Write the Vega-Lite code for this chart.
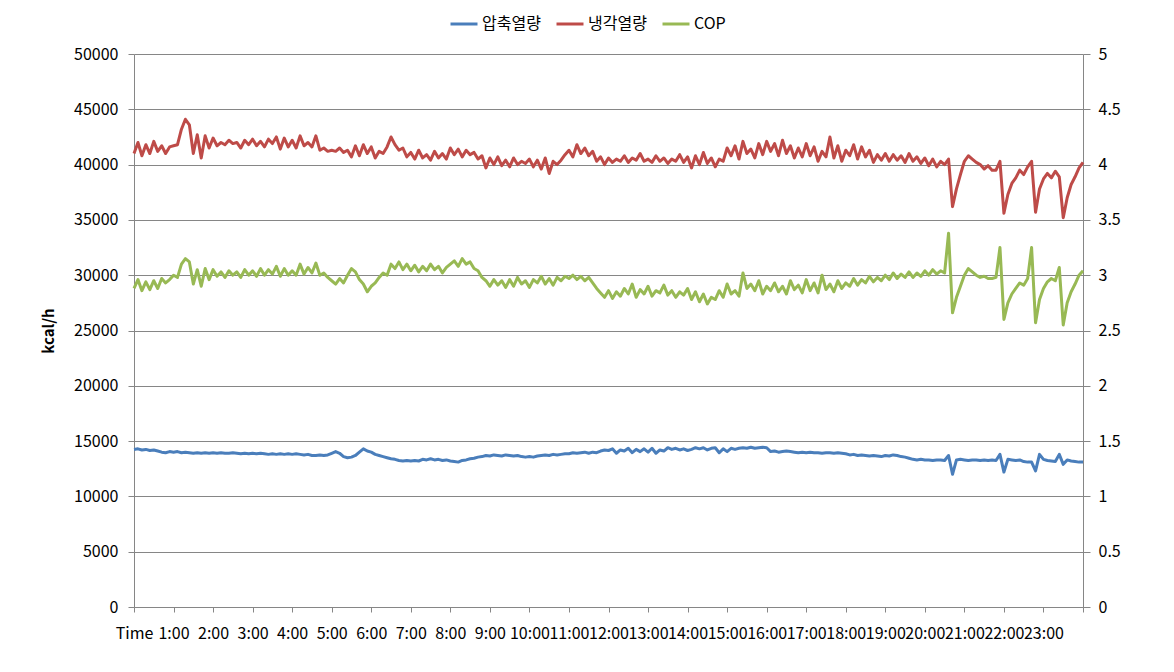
{
"$schema": "https://vega.github.io/schema/vega-lite/v6.json",
"width": 949, "height": 553,
"autosize": "none",
"padding": {"left": 134, "top": 54, "right": 91, "bottom": 65},
"background": "white",
"config": {
  "font": "Noto Sans CJK KR",
  "view": {"stroke": null},
  "axis": {"labelColor": "#000000", "labelFontSize": 16, "domainColor": "#868686", "tickColor": "#868686", "gridColor": "#868686", "gridOpacity": 1, "domainWidth": 1, "tickWidth": 1, "gridWidth": 1}
},
"data": {"values": [
{"t":0,"압축열량":14250,"냉각열량":41000,"COP":2.88},
{"t":0.1,"압축열량":14300,"냉각열량":42000,"COP":2.96},
{"t":0.2,"압축열량":14200,"냉각열량":40800,"COP":2.86},
{"t":0.3,"압축열량":14250,"냉각열량":41800,"COP":2.94},
{"t":0.4,"압축열량":14150,"냉각열량":41000,"COP":2.87},
{"t":0.5,"압축열량":14200,"냉각열량":42100,"COP":2.95},
{"t":0.6,"압축열량":14100,"냉각열량":41200,"COP":2.88},
{"t":0.7,"압축열량":14000,"냉각열량":41700,"COP":2.97},
{"t":0.8,"압축열량":13950,"냉각열량":41000,"COP":2.93},
{"t":0.9,"압축열량":14050,"냉각열량":41600,"COP":2.96},
{"t":1,"압축열량":14000,"냉각열량":41700,"COP":3.00},
{"t":1.1,"압축열량":14050,"냉각열량":41800,"COP":2.98},
{"t":1.2,"압축열량":13950,"냉각열량":43200,"COP":3.10},
{"t":1.3,"압축열량":14000,"냉각열량":44100,"COP":3.15},
{"t":1.4,"압축열량":13950,"냉각열량":43600,"COP":3.12},
{"t":1.5,"압축열량":13900,"냉각열량":41000,"COP":2.92},
{"t":1.6,"압축열량":13950,"냉각열량":42700,"COP":3.05},
{"t":1.7,"압축열량":13900,"냉각열량":40600,"COP":2.90},
{"t":1.8,"압축열량":13950,"냉각열량":42600,"COP":3.06},
{"t":1.9,"압축열량":13900,"냉각열량":41500,"COP":2.96},
{"t":2,"압축열량":13950,"냉각열량":42400,"COP":3.05},
{"t":2.1,"압축열량":13900,"냉각열량":41700,"COP":2.99},
{"t":2.2,"압축열량":13950,"냉각열량":42000,"COP":3.03},
{"t":2.3,"압축열량":13900,"냉각열량":41800,"COP":2.98},
{"t":2.4,"압축열량":13900,"냉각열량":42200,"COP":3.04},
{"t":2.5,"압축열량":13950,"냉각열량":41900,"COP":3.00},
{"t":2.6,"압축열량":13900,"냉각열량":42000,"COP":3.03},
{"t":2.7,"압축열량":13850,"냉각열량":41500,"COP":2.98},
{"t":2.8,"압축열량":13900,"냉각열량":42200,"COP":3.05},
{"t":2.9,"압축열량":13850,"냉각열량":41800,"COP":3.00},
{"t":3,"압축열량":13900,"냉각열량":42300,"COP":3.04},
{"t":3.1,"압축열량":13850,"냉각열량":41700,"COP":2.99},
{"t":3.2,"압축열량":13900,"냉각열량":42100,"COP":3.06},
{"t":3.3,"압축열량":13850,"냉각열량":41600,"COP":3.00},
{"t":3.4,"압축열량":13800,"냉각열량":42300,"COP":3.05},
{"t":3.5,"압축열량":13850,"냉각열량":41900,"COP":3.01},
{"t":3.6,"압축열량":13800,"냉각열량":42500,"COP":3.08},
{"t":3.7,"압축열량":13850,"냉각열량":41400,"COP":2.99},
{"t":3.8,"압축열량":13800,"냉각열량":42400,"COP":3.06},
{"t":3.9,"압축열량":13850,"냉각열량":41600,"COP":3.00},
{"t":4,"압축열량":13800,"냉각열량":42200,"COP":3.04},
{"t":4.1,"압축열량":13850,"냉각열량":41500,"COP":3.00},
{"t":4.2,"압축열량":13800,"냉각열량":42600,"COP":3.10},
{"t":4.3,"압축열량":13750,"냉각열량":41700,"COP":3.01},
{"t":4.4,"압축열량":13800,"냉각열량":42000,"COP":3.07},
{"t":4.5,"압축열량":13700,"냉각열량":41600,"COP":3.02},
{"t":4.6,"압축열량":13700,"냉각열량":42600,"COP":3.11},
{"t":4.7,"압축열량":13750,"냉각열량":41300,"COP":3.00},
{"t":4.8,"압축열량":13700,"냉각열량":41500,"COP":3.02},
{"t":4.9,"압축열량":13750,"냉각열량":41200,"COP":2.98},
{"t":5,"압축열량":13900,"냉각열량":41300,"COP":2.95},
{"t":5.1,"압축열량":14050,"냉각열량":41200,"COP":2.92},
{"t":5.2,"압축열량":13900,"냉각열량":41500,"COP":2.97},
{"t":5.3,"압축열량":13600,"냉각열량":41100,"COP":2.93},
{"t":5.4,"압축열량":13500,"냉각열량":41300,"COP":3.00},
{"t":5.5,"압축열량":13550,"냉각열량":40700,"COP":3.06},
{"t":5.6,"압축열량":13700,"냉각열량":41700,"COP":3.03},
{"t":5.7,"압축열량":14000,"냉각열량":40800,"COP":2.96},
{"t":5.8,"압축열량":14300,"냉각열량":41800,"COP":2.92},
{"t":5.9,"압축열량":14100,"냉각열량":41000,"COP":2.85},
{"t":6,"압축열량":14000,"냉각열량":41600,"COP":2.90},
{"t":6.1,"압축열량":13800,"냉각열량":40600,"COP":2.93},
{"t":6.2,"압축열량":13700,"냉각열량":41200,"COP":2.98},
{"t":6.3,"압축열량":13600,"냉각열량":41000,"COP":3.02},
{"t":6.4,"압축열량":13500,"냉각열량":41600,"COP":3.00},
{"t":6.5,"압축열량":13400,"냉각열량":42500,"COP":3.10},
{"t":6.6,"압축열량":13350,"냉각열량":41800,"COP":3.06},
{"t":6.7,"압축열량":13250,"냉각열량":41300,"COP":3.12},
{"t":6.8,"압축열량":13200,"냉각열량":41500,"COP":3.05},
{"t":6.9,"압축열량":13250,"냉각열량":40700,"COP":3.10},
{"t":7,"압축열량":13200,"냉각열량":41100,"COP":3.04},
{"t":7.1,"압축열량":13250,"냉각열량":40500,"COP":3.09},
{"t":7.2,"압축열량":13200,"냉각열량":41300,"COP":3.03},
{"t":7.3,"압축열량":13350,"냉각열량":40600,"COP":3.08},
{"t":7.4,"압축열량":13300,"냉각열량":40900,"COP":3.04},
{"t":7.5,"압축열량":13400,"냉각열량":40400,"COP":3.10},
{"t":7.6,"압축열량":13300,"냉각열량":41200,"COP":3.05},
{"t":7.7,"압축열량":13350,"냉각열량":40600,"COP":3.08},
{"t":7.8,"압축열량":13250,"냉각열량":41000,"COP":3.02},
{"t":7.9,"압축열량":13300,"냉각열량":40500,"COP":3.07},
{"t":8,"압축열량":13200,"냉각열량":41500,"COP":3.10},
{"t":8.1,"압축열량":13150,"냉각열량":40900,"COP":3.13},
{"t":8.2,"압축열량":13100,"냉각열량":41400,"COP":3.08},
{"t":8.3,"압축열량":13250,"냉각열량":40700,"COP":3.15},
{"t":8.4,"압축열량":13300,"냉각열량":41300,"COP":3.10},
{"t":8.5,"압축열량":13400,"냉각열량":40900,"COP":3.12},
{"t":8.6,"압축열량":13450,"냉각열량":41100,"COP":3.06},
{"t":8.7,"압축열량":13550,"냉각열량":40500,"COP":3.04},
{"t":8.8,"압축열량":13600,"냉각열량":40800,"COP":2.98},
{"t":8.9,"압축열량":13700,"냉각열량":39700,"COP":2.95},
{"t":9,"압축열량":13650,"냉각열량":40600,"COP":2.90},
{"t":9.1,"압축열량":13750,"냉각열량":40000,"COP":2.96},
{"t":9.2,"압축열량":13700,"냉각열량":40700,"COP":2.91},
{"t":9.3,"압축열량":13650,"냉각열량":39900,"COP":2.95},
{"t":9.4,"압축열량":13750,"냉각열량":40400,"COP":2.89},
{"t":9.5,"압축열량":13700,"냉각열량":39800,"COP":2.96},
{"t":9.6,"압축열량":13650,"냉각열량":40600,"COP":2.90},
{"t":9.7,"압축열량":13700,"냉각열량":40000,"COP":2.98},
{"t":9.8,"압축열량":13600,"냉각열량":40300,"COP":2.92},
{"t":9.9,"압축열량":13550,"냉각열량":40100,"COP":2.95},
{"t":10,"압축열량":13600,"냉각열량":40500,"COP":2.89},
{"t":10.1,"압축열량":13550,"냉각열량":39800,"COP":2.96},
{"t":10.2,"압축열량":13650,"냉각열량":40400,"COP":2.93},
{"t":10.3,"압축열량":13700,"냉각열량":39600,"COP":2.99},
{"t":10.4,"압축열량":13750,"냉각열량":40600,"COP":2.92},
{"t":10.5,"압축열량":13700,"냉각열량":39200,"COP":2.97},
{"t":10.6,"압축열량":13800,"냉각열량":40300,"COP":2.91},
{"t":10.7,"압축열량":13750,"냉각열량":40000,"COP":2.98},
{"t":10.8,"압축열량":13800,"냉각열량":40400,"COP":2.95},
{"t":10.9,"압축열량":13850,"냉각열량":40900,"COP":2.99},
{"t":11,"압축열량":13850,"냉각열량":41300,"COP":2.97},
{"t":11.1,"압축열량":13950,"냉각열량":40700,"COP":3.00},
{"t":11.2,"압축열량":13900,"냉각열량":41800,"COP":2.96},
{"t":11.3,"압축열량":13950,"냉각열량":41000,"COP":2.99},
{"t":11.4,"압축열량":14000,"냉각열량":41500,"COP":2.95},
{"t":11.5,"압축열량":13900,"냉각열량":40800,"COP":2.98},
{"t":11.6,"압축열량":14000,"냉각열량":41200,"COP":2.93},
{"t":11.7,"압축열량":13950,"냉각열량":40300,"COP":2.88},
{"t":11.8,"압축열량":14100,"냉각열량":40700,"COP":2.84},
{"t":11.9,"압축열량":14200,"냉각열량":40000,"COP":2.80},
{"t":12,"압축열량":14150,"냉각열량":40600,"COP":2.86},
{"t":12.1,"압축열량":14300,"냉각열량":40200,"COP":2.79},
{"t":12.2,"압축열량":13900,"냉각열량":40500,"COP":2.85},
{"t":12.3,"압축열량":14200,"냉각열량":40300,"COP":2.81},
{"t":12.4,"압축열량":14100,"냉각열량":40800,"COP":2.88},
{"t":12.5,"압축열량":14350,"냉각열량":40200,"COP":2.83},
{"t":12.6,"압축열량":13950,"냉각열량":40600,"COP":2.92},
{"t":12.7,"압축열량":14250,"냉각열량":40400,"COP":2.80},
{"t":12.8,"압축열량":14050,"냉각열량":41000,"COP":2.87},
{"t":12.9,"압축열량":14300,"냉각열량":40300,"COP":2.83},
{"t":13,"압축열량":14000,"냉각열량":40500,"COP":2.90},
{"t":13.1,"압축열량":14350,"냉각열량":40200,"COP":2.81},
{"t":13.2,"압축열량":13900,"냉각열량":40800,"COP":2.86},
{"t":13.3,"압축열량":14200,"냉각열량":40300,"COP":2.84},
{"t":13.4,"압축열량":14100,"냉각열량":40600,"COP":2.91},
{"t":13.5,"압축열량":14400,"냉각열량":40100,"COP":2.82},
{"t":13.6,"압축열량":14250,"냉각열량":40500,"COP":2.86},
{"t":13.7,"압축열량":14350,"냉각열량":40300,"COP":2.80},
{"t":13.8,"압축열량":14200,"냉각열량":40900,"COP":2.85},
{"t":13.9,"압축열량":14300,"냉각열량":40200,"COP":2.82},
{"t":14,"압축열량":14150,"냉각열량":40700,"COP":2.88},
{"t":14.1,"압축열량":14250,"냉각열량":39700,"COP":2.78},
{"t":14.2,"압축열량":14400,"냉각열량":40800,"COP":2.85},
{"t":14.3,"압축열량":14300,"냉각열량":40000,"COP":2.76},
{"t":14.4,"압축열량":14400,"냉각열량":41100,"COP":2.83},
{"t":14.5,"압축열량":14200,"냉각열량":40100,"COP":2.74},
{"t":14.6,"압축열량":14350,"냉각열량":40600,"COP":2.80},
{"t":14.7,"압축열량":14400,"냉각열량":39800,"COP":2.78},
{"t":14.8,"압축열량":13950,"냉각열량":40500,"COP":2.86},
{"t":14.9,"압축열량":14300,"냉각열량":40300,"COP":2.80},
{"t":15,"압축열량":14050,"냉각열량":41500,"COP":2.92},
{"t":15.1,"압축열량":14350,"냉각열량":40800,"COP":2.83},
{"t":15.2,"압축열량":14250,"냉각열량":41700,"COP":2.86},
{"t":15.3,"압축열량":14350,"냉각열량":40500,"COP":2.81},
{"t":15.4,"압축열량":14400,"냉각열량":42100,"COP":3.02},
{"t":15.5,"압축열량":14350,"냉각열량":41000,"COP":2.88},
{"t":15.6,"압축열량":14450,"냉각열량":41400,"COP":2.92},
{"t":15.7,"압축열량":14350,"냉각열량":40600,"COP":2.86},
{"t":15.8,"압축열량":14400,"냉각열량":41900,"COP":2.95},
{"t":15.9,"압축열량":14450,"냉각열량":40900,"COP":2.83},
{"t":16,"압축열량":14400,"냉각열량":42100,"COP":2.90},
{"t":16.1,"압축열량":14050,"냉각열량":41200,"COP":2.86},
{"t":16.2,"압축열량":14100,"냉각열량":41900,"COP":2.93},
{"t":16.3,"압축열량":14000,"냉각열량":40800,"COP":2.85},
{"t":16.4,"압축열량":14050,"냉각열량":42200,"COP":2.90},
{"t":16.5,"압축열량":14100,"냉각열량":41000,"COP":2.83},
{"t":16.6,"압축열량":14050,"냉각열량":41700,"COP":2.95},
{"t":16.7,"압축열량":14000,"냉각열량":40600,"COP":2.87},
{"t":16.8,"압축열량":13950,"냉각열량":41500,"COP":2.91},
{"t":16.9,"압축열량":14000,"냉각열량":40700,"COP":2.84},
{"t":17,"압축열량":13950,"냉각열량":41900,"COP":2.96},
{"t":17.1,"압축열량":14000,"냉각열량":40800,"COP":2.86},
{"t":17.2,"압축열량":13950,"냉각열량":41600,"COP":2.93},
{"t":17.3,"압축열량":13950,"냉각열량":40300,"COP":2.84},
{"t":17.4,"압축열량":13900,"냉각열량":41200,"COP":3.00},
{"t":17.5,"압축열량":13950,"냉각열량":40700,"COP":2.87},
{"t":17.6,"압축열량":13950,"냉각열량":42500,"COP":2.92},
{"t":17.7,"압축열량":13900,"냉각열량":40600,"COP":2.85},
{"t":17.8,"압축열량":13950,"냉각열량":41700,"COP":2.95},
{"t":17.9,"압축열량":13900,"냉각열량":40300,"COP":2.88},
{"t":18,"압축열량":13850,"냉각열량":41300,"COP":2.93},
{"t":18.1,"압축열량":13750,"냉각열량":40800,"COP":2.90},
{"t":18.2,"압축열량":13800,"냉각열량":41800,"COP":2.97},
{"t":18.3,"압축열량":13700,"냉각열량":40500,"COP":2.91},
{"t":18.4,"압축열량":13750,"냉각열량":41600,"COP":2.96},
{"t":18.5,"압축열량":13700,"냉각열량":40700,"COP":2.93},
{"t":18.6,"압축열량":13650,"냉각열량":41300,"COP":2.99},
{"t":18.7,"압축열량":13700,"냉각열량":40200,"COP":2.94},
{"t":18.8,"압축열량":13650,"냉각열량":40900,"COP":2.98},
{"t":18.9,"압축열량":13600,"냉각열량":40400,"COP":2.95},
{"t":19,"압축열량":13700,"냉각열량":41000,"COP":3.00},
{"t":19.1,"압축열량":13650,"냉각열량":40300,"COP":2.96},
{"t":19.2,"압축열량":13750,"냉각열량":40900,"COP":3.02},
{"t":19.3,"압축열량":13700,"냉각열량":40400,"COP":2.97},
{"t":19.4,"압축열량":13600,"냉각열량":40800,"COP":3.01},
{"t":19.5,"압축열량":13550,"냉각열량":40200,"COP":2.98},
{"t":19.6,"압축열량":13450,"냉각열량":41000,"COP":3.03},
{"t":19.7,"압축열량":13350,"냉각열량":40300,"COP":2.98},
{"t":19.8,"압축열량":13300,"냉각열량":40700,"COP":3.02},
{"t":19.9,"압축열량":13350,"냉각열량":40100,"COP":2.99},
{"t":20,"압축열량":13300,"냉각열량":40600,"COP":3.04},
{"t":20.1,"압축열량":13300,"냉각열량":39900,"COP":3.00},
{"t":20.2,"압축열량":13250,"냉각열량":40500,"COP":3.05},
{"t":20.3,"압축열량":13300,"냉각열량":39800,"COP":3.01},
{"t":20.4,"압축열량":13300,"냉각열량":40300,"COP":3.04},
{"t":20.5,"압축열량":13250,"냉각열량":40000,"COP":3.02},
{"t":20.6,"압축열량":13700,"냉각열량":40500,"COP":3.38},
{"t":20.7,"압축열량":12000,"냉각열량":36200,"COP":2.66},
{"t":20.8,"압축열량":13300,"냉각열량":37800,"COP":2.80},
{"t":20.9,"압축열량":13350,"냉각열량":39100,"COP":2.90},
{"t":21,"압축열량":13300,"냉각열량":40300,"COP":3.00},
{"t":21.1,"압축열량":13250,"냉각열량":40800,"COP":3.06},
{"t":21.2,"압축열량":13300,"냉각열량":40500,"COP":3.03},
{"t":21.3,"압축열량":13300,"냉각열량":40200,"COP":3.00},
{"t":21.4,"압축열량":13250,"냉각열량":40000,"COP":2.98},
{"t":21.5,"압축열량":13300,"냉각열량":39600,"COP":2.99},
{"t":21.6,"압축열량":13250,"냉각열량":39900,"COP":2.97},
{"t":21.7,"압축열량":13300,"냉각열량":39500,"COP":2.97},
{"t":21.8,"압축열량":13250,"냉각열량":39500,"COP":2.98},
{"t":21.9,"압축열량":13800,"냉각열량":40300,"COP":3.25},
{"t":22,"압축열량":12200,"냉각열량":35600,"COP":2.60},
{"t":22.1,"압축열량":13350,"냉각열량":37300,"COP":2.75},
{"t":22.2,"압축열량":13300,"냉각열량":38300,"COP":2.83},
{"t":22.3,"압축열량":13250,"냉각열량":38800,"COP":2.88},
{"t":22.4,"압축열량":13300,"냉각열량":39500,"COP":2.93},
{"t":22.5,"압축열량":13150,"냉각열량":39100,"COP":2.91},
{"t":22.6,"압축열량":13100,"냉각열량":39800,"COP":2.97},
{"t":22.7,"압축열량":13100,"냉각열량":40300,"COP":3.25},
{"t":22.8,"압축열량":12300,"냉각열량":35700,"COP":2.57},
{"t":22.9,"압축열량":13800,"냉각열량":37800,"COP":2.78},
{"t":23,"압축열량":13350,"냉각열량":38700,"COP":2.88},
{"t":23.1,"압축열량":13250,"냉각열량":39200,"COP":2.94},
{"t":23.2,"압축열량":13200,"냉각열량":38800,"COP":2.97},
{"t":23.3,"압축열량":13150,"냉각열량":39400,"COP":2.95},
{"t":23.4,"압축열량":13800,"냉각열량":38900,"COP":3.07},
{"t":23.5,"압축열량":12900,"냉각열량":35200,"COP":2.55},
{"t":23.6,"압축열량":13300,"냉각열량":37000,"COP":2.75},
{"t":23.7,"압축열량":13200,"냉각열량":38200,"COP":2.85},
{"t":23.8,"압축열량":13150,"냉각열량":38900,"COP":2.92},
{"t":23.9,"압축열량":13100,"냉각열량":39700,"COP":3.00},
{"t":24,"압축열량":13100,"냉각열량":40200,"COP":3.04}
]},
"encoding": {
  "x": {"field": "t", "type": "quantitative", "scale": {"domain": [0, 24], "nice": false, "zero": false},
    "axis": {"title": null, "values": [0,1,2,3,4,5,6,7,8,9,10,11,12,13,14,15,16,17,18,19,20,21,22,23,24], "labelExpr": "datum.value == 0 ? 'Time' : (datum.value < 24 ? datum.value + ':00' : '')", "grid": false, "tickSize": 5, "labelPadding": 13, "labelOverlap": false, "labelFlush": false, "labelBound": false}}
},
"layer": [
  {
    "transform": [{"fold": ["압축열량", "냉각열량"], "as": ["s", "v"]}],
    "mark": {"type": "line", "strokeWidth": 3, "strokeJoin": "round"},
    "encoding": {
      "y": {"field": "v", "type": "quantitative", "scale": {"domain": [0, 50000], "nice": false},
        "axis": {"title": "kcal/h", "titleFontSize": 15, "titleFontWeight": "bold", "titleColor": "#000000", "titlePadding": 17, "values": [0,5000,10000,15000,20000,25000,30000,35000,40000,45000,50000], "format": "d", "grid": true, "tickSize": 6, "labelPadding": 10}},
      "color": {"field": "s", "type": "nominal", "scale": {"domain": ["압축열량", "냉각열량", "COP"], "range": ["#4A7EBB", "#BE4B48", "#98B954"]},
        "legend": {"title": null, "orient": "none", "direction": "horizontal", "legendX": 315, "legendY": -45, "labelFontSize": 16, "labelColor": "#000000", "symbolType": "stroke", "symbolSize": 729, "symbolStrokeWidth": 3, "labelOffset": 3, "columnPadding": 9}}
    }
  },
  {
    "transform": [{"fold": ["COP"], "as": ["s", "v"]}],
    "mark": {"type": "line", "strokeWidth": 3, "strokeJoin": "round"},
    "encoding": {
      "y": {"field": "v", "type": "quantitative", "scale": {"domain": [0, 5], "nice": false},
        "axis": {"orient": "right", "title": null, "values": [0,0.5,1,1.5,2,2.5,3,3.5,4,4.5,5], "format": "~g", "grid": false, "tickSize": 7, "labelPadding": 8}},
      "color": {"field": "s", "type": "nominal"}
    }
  }
],
"resolve": {"scale": {"y": "independent"}}
}
